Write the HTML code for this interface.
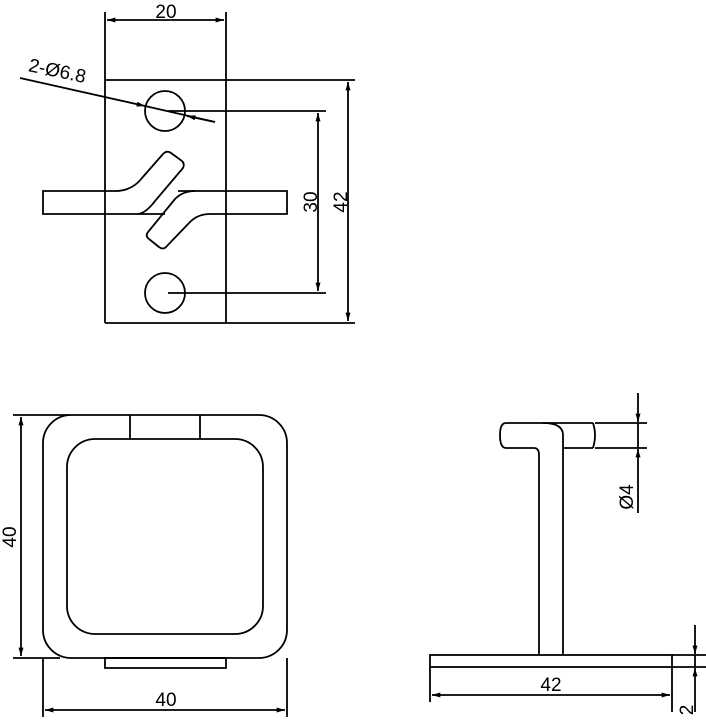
<!DOCTYPE html>
<html><head><style>html,body{margin:0;padding:0;background:#fff}svg{display:block}</style></head>
<body>
<svg width="706" height="720" viewBox="0 0 706 720" xmlns="http://www.w3.org/2000/svg">
<defs>
<marker id="a" viewBox="0 0 10 6" refX="10" refY="3" markerWidth="12" markerHeight="5" markerUnits="userSpaceOnUse" orient="auto-start-reverse"><path d="M0,0 L10,3 L0,6 z" fill="#000"/></marker>
</defs>
<g fill="none" stroke="#000" stroke-width="1.8" font-family="Liberation Sans, sans-serif">
<line x1="105" y1="12" x2="105" y2="323"/>
<line x1="226" y1="12" x2="226" y2="323"/>
<line x1="105" y1="323" x2="226" y2="323"/>
<line x1="105" y1="80" x2="355" y2="80"/>
<line x1="226" y1="323" x2="355" y2="323"/>
<line x1="107" y1="20" x2="224" y2="20" marker-start="url(#a)" marker-end="url(#a)"/>
<circle cx="165" cy="111" r="20"/>
<circle cx="165" cy="293" r="20"/>
<line x1="168" y1="111" x2="326" y2="111"/>
<line x1="168" y1="293" x2="326" y2="293"/>
<line x1="318" y1="113" x2="318" y2="291" marker-start="url(#a)" marker-end="url(#a)"/>
<line x1="348" y1="82" x2="348" y2="321" marker-start="url(#a)" marker-end="url(#a)"/>
<line x1="20" y1="78" x2="145" y2="106" marker-end="url(#a)"/>
<line x1="145" y1="106" x2="215" y2="122"/>
<line x1="215" y1="122" x2="187" y2="116" marker-end="url(#a)"/>
<path d="M115,191 L43,191 L43,214 L138,214"/>
<path d="M178,191 L287,191 L287,214 L210,214"/>
<line x1="138" y1="214" x2="165" y2="214"/>
<path d="M115,191 Q132,191 142,178 L163,154 Q167,150 171,153 L182,161 Q185,164 183,168 L155,201 Q146,213 138,214"/>
<path d="M195,191 Q183,191 175,199 L148,232 Q145,236 149,239 L159,247 Q163,250 166,247 L190,222 Q198,214 210,214"/>
<rect x="43" y="415" width="244" height="243" rx="28"/>
<rect x="67" y="439" width="196" height="195" rx="28"/>
<line x1="130" y1="415" x2="130" y2="439"/>
<line x1="200" y1="415" x2="200" y2="439"/>
<rect x="105" y="658" width="121" height="10"/>
<line x1="13" y1="415" x2="70" y2="415"/>
<line x1="13" y1="658" x2="60" y2="658"/>
<line x1="21" y1="417" x2="21" y2="656" marker-start="url(#a)" marker-end="url(#a)"/>
<line x1="43" y1="658" x2="43" y2="717"/>
<line x1="287" y1="658" x2="287" y2="717"/>
<line x1="45" y1="710" x2="285" y2="710" marker-start="url(#a)" marker-end="url(#a)"/>
<path d="M563,423 L506,423 Q500,423 500,435 Q500,448 506,448 L534,448 Q539,448 539,455 L539,655"/>
<path d="M543,423 Q563,423 563,435 L563,655"/>
<line x1="563" y1="423" x2="593" y2="423"/>
<line x1="563" y1="448" x2="593" y2="448"/>
<path d="M593,423 Q597,435 593,448"/>
<rect x="430" y="655" width="242" height="12"/>
<line x1="595" y1="423" x2="647" y2="423"/>
<line x1="595" y1="448" x2="647" y2="448"/>
<line x1="638" y1="393" x2="638" y2="422" marker-end="url(#a)"/>
<line x1="638" y1="513" x2="638" y2="449" marker-end="url(#a)"/>
<line x1="638" y1="423" x2="638" y2="448"/>
<line x1="430" y1="667" x2="430" y2="702"/>
<line x1="672" y1="667" x2="672" y2="712"/>
<line x1="672" y1="655" x2="706" y2="655"/>
<line x1="672" y1="667" x2="706" y2="667"/>
<line x1="432" y1="695" x2="670" y2="695" marker-start="url(#a)" marker-end="url(#a)"/>
<line x1="695" y1="625" x2="695" y2="654" marker-end="url(#a)"/>
<line x1="695" y1="712" x2="695" y2="668" marker-end="url(#a)"/>
<line x1="695" y1="655" x2="695" y2="667"/>
</g>
<g font-family="Liberation Sans, DejaVu Sans, sans-serif" font-size="19" fill="#000" text-anchor="middle">
<text x="166" y="18">20</text>
<text x="0" y="0" transform="translate(56,77) rotate(12)">2-Ø6.8</text>
<text x="0" y="0" transform="translate(317,202) rotate(-90)">30</text>
<text x="0" y="0" transform="translate(347,202) rotate(-90)">42</text>
<text x="0" y="0" transform="translate(16,537) rotate(-90)">40</text>
<text x="166" y="706">40</text>
<text x="0" y="0" transform="translate(633,497) rotate(-90)">Ø4</text>
<text x="551" y="691">42</text>
<text x="0" y="0" transform="translate(693,710) rotate(-90)">2</text>
</g>
</svg>
</body></html>
